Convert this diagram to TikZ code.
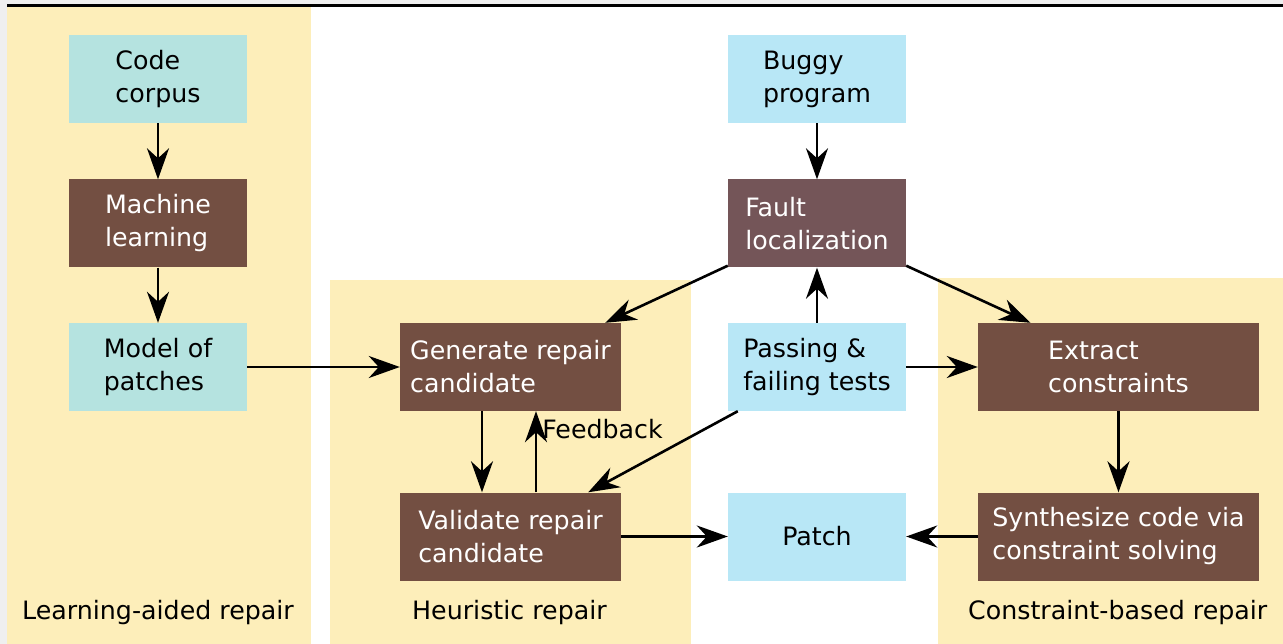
\documentclass[tikz,border=0pt]{standalone}
\usepackage{fontspec}
\setmainfont{DejaVu Sans}
\usetikzlibrary{arrows.meta}
\definecolor{panelyellow}{RGB}{253,238,186}
\definecolor{tealbox}{RGB}{181,227,224}
\definecolor{skybox}{RGB}{184,231,246}
\definecolor{brownbox}{RGB}{115,79,66}
\definecolor{faultbox}{RGB}{116,85,88}
\definecolor{edgegray}{RGB}{239,239,239}
\tikzset{
  box/.style={minimum width=178pt, minimum height=88pt, inner sep=0pt, align=left,
    font=\fontsize{25.3}{33}\selectfont},
  databox/.style={box, fill=skybox, text=black},
  corpusbox/.style={box, fill=tealbox, text=black},
  stepbox/.style={box, fill=brownbox, text=white},
  widebox/.style={stepbox, minimum width=221pt},
  xwidebox/.style={stepbox, minimum width=281pt},
  flow/.style={line width=2.6pt, -{Stealth[length=31pt,width=22pt,inset=10pt]}},
  panellabel/.style={anchor=west, inner sep=0pt, font=\fontsize{25.3}{30}\selectfont}
}
\begin{document}
\begin{tikzpicture}[x=1pt,y=-1pt]
\useasboundingbox (0,0) rectangle (1283,644);
% page frame
\fill[white] (0,0) rectangle (1283,644);
\fill[edgegray] (0,0) rectangle (7,644);
\fill[edgegray] (0,0) rectangle (1283,4);
\draw[line width=2.5pt] (7,5.5) -- (1283,5.5);
% panels
\fill[panelyellow] (7,7) rectangle (311,644);
\fill[panelyellow] (330,280) rectangle (691,644);
\fill[panelyellow] (938,278) rectangle (1283,644);
% learning-aided column
\node[corpusbox] (corpus) at (158,79) {Code\\corpus};
\node[stepbox] (ml) at (158,223.5) {Machine\\learning};
\node[corpusbox] (model) at (158,367) {Model of\\patches};
% central column
\node[databox] (buggy) at (817,79) {Buggy\\program};
\node[stepbox, fill=faultbox] (fault) at (817,223.5) {Fault\\localization};
\node[databox] (tests) at (817,367) {Passing \&\\failing tests};
\node[databox] (patch) at (817,536.5) {Patch};
% heuristic repair
\node[widebox] (gen) at (510.5,367) {Generate repair\\candidate};
\node[widebox] (val) at (510.5,536.5) {Validate repair\\candidate};
% constraint-based repair
\node[xwidebox] (extract) at (1118.5,367) {Extract\\constraints};
\node[xwidebox] (synth) at (1118.5,536.5) {Synthesize code via\\constraint solving};
% panel captions
\node[panellabel] (lab1) at (22,613) {Learning-aided repair};
\node[panellabel] (lab2) at (412,613) {Heuristic repair};
\node[panellabel] (lab3) at (968,613) {Constraint-based repair};
% connectors
\draw[flow] (corpus) -- (ml);
\draw[flow] (ml) -- (model);
\draw[flow] (model) -- (gen);
\draw[flow] (buggy) -- (fault);
\draw[flow] (tests) -- (fault);
\draw[flow] (tests) -- (extract);
\draw[flow] (fault.south west) ++(0,-2) -- ([xshift=-16pt]gen.north east);
\draw[flow] (fault.south east) ++(0,-2) -- ([xshift=-88pt]extract.north);
\draw[flow] ([xshift=10pt]tests.south west) -- ([xshift=-33pt]val.north east);
\draw[flow] ([xshift=-28.5pt]gen.south) -- ([xshift=-28.5pt]val.north);
\draw[flow] ([xshift=25.5pt]val.north) -- node[right, pos=0.78, inner sep=5pt, font=\fontsize{25.3}{30}\selectfont] {Feedback} ([xshift=25.5pt]gen.south);
\draw[flow] (val) -- (patch);
\draw[flow] (synth) -- (patch);
\draw[flow] (extract) -- (synth);
\end{tikzpicture}
\end{document}
